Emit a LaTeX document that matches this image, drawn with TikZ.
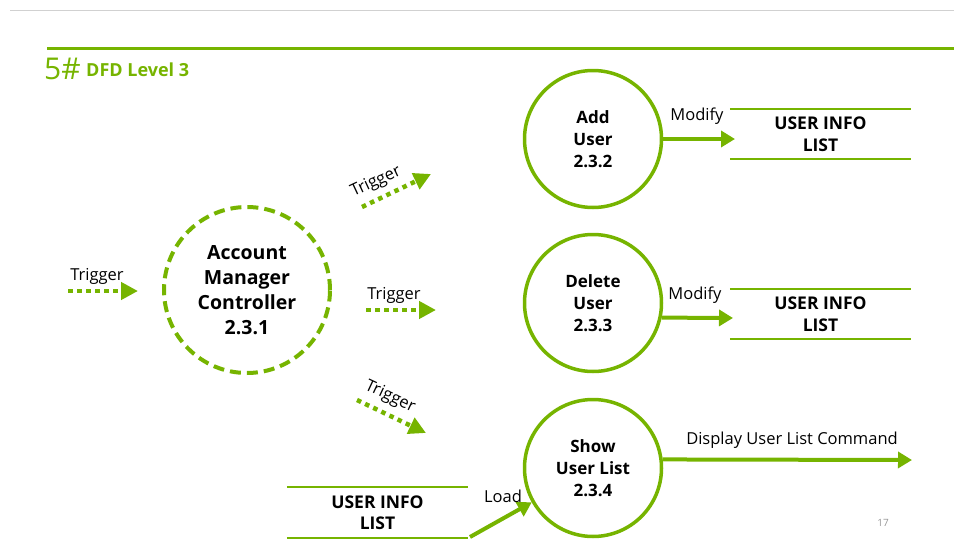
\documentclass[tikz,border=0pt]{standalone}
\usepackage{fontspec}
\setmainfont{Open Sans}
\usetikzlibrary{arrows.meta}
\definecolor{grn}{RGB}{118,180,0}
\definecolor{pgnum}{RGB}{150,150,150}
\tikzset{
  proc/.style={circle, draw=grn, line width=3.5pt, minimum size=137pt, inner sep=0pt, align=center, font=\fontsize{17}{22}\selectfont\bfseries},
  ctrl/.style={circle, draw=grn, line width=4pt, dash pattern=on 11pt off 6pt, minimum size=166pt, inner sep=0pt, align=center, font=\fontsize{19.5}{25}\selectfont\bfseries},
  store/.style={minimum width=181pt, minimum height=50pt, inner sep=0pt, align=center, font=\fontsize{17.5}{21.5}\selectfont\bfseries},
  storeline/.style={draw=grn, line width=2pt},
  flow/.style={draw=grn, line width=4pt, -{Triangle[length=14pt,width=16pt]}},
  trig/.style={draw=grn, line width=4.5pt, dash pattern=on 4.5pt off 4.5pt, -{Triangle[length=17pt,width=17pt]}},
  lbl/.style={font=\fontsize{16.5}{18}\selectfont, inner sep=0pt}
}
\begin{document}
\begin{tikzpicture}[x=1pt,y=-1pt]
\useasboundingbox (0,0) rectangle (954,541);
% header lines
\draw[draw=black!18, line width=1pt] (10,10.5) -- (954,10.5);
\draw[draw=grn, line width=3pt] (47,48.5) -- (954,48.5);
\node[anchor=base west, text=grn, inner sep=0pt, font=\fontsize{30}{30}\selectfont] (t5) at (44,79) {5\#};
\node[anchor=base west, text=grn, inner sep=0pt, font=\fontsize{18}{18}\selectfont\bfseries] (tt) at (86,76) {DFD Level 3};

% processes
\node[ctrl] (amc) at (247,290) {Account\\Manager\\Controller\\2.3.1};
\node[proc] (add) at (593,139) {Add\\User\\2.3.2};
\node[proc] (del) at (593,303) {Delete\\User\\2.3.3};
\node[proc] (show) at (593,468) {Show\\User List\\2.3.4};

% stores
\node[store] (s1) at (820.5,134) {USER INFO\\LIST};
\node[store] (s2) at (820.5,314) {USER INFO\\LIST};
\node[store] (s3) at (377.5,512.5) {USER INFO\\LIST};
\foreach \s in {s1,s2,s3}{
  \draw[storeline] (\s.north west) -- (\s.north east);
  \draw[storeline] (\s.south west) -- (\s.south east);
}

% trigger arrows
\coordinate (tin0) at (68,291);
\coordinate (tin1) at (138,291);
\draw[trig] (tin0) -- (tin1);
\node[lbl] (l0) at (97,276) {Trigger};

\coordinate (tu0) at (362,207);
\coordinate (tu1) at (431,174);
\draw[trig] (tu0) -- (tu1);
\node[lbl, rotate=25] (l1) at (376,182) {Trigger};

\coordinate (tm0) at (366,310);
\coordinate (tm1) at (436,310);
\draw[trig] (tm0) -- (tm1);
\node[lbl] (l2) at (394,295) {Trigger};

\coordinate (td0) at (357,400);
\coordinate (td1) at (426,433);
\draw[trig] (td0) -- (td1);
\node[lbl, rotate=-25] (l3) at (390,397) {Trigger};

% data flows
\coordinate (m1) at (735,139);
\draw[flow] (add.east) -- (m1);
\node[lbl] (lm1) at (697,116) {Modify};

\coordinate (m2) at (733,318);
\draw[flow] (del.-12) -- (m2);
\node[lbl] (lm2) at (695,295) {Modify};

\coordinate (d1) at (912,460);
\draw[flow] (show.7) -- (d1);
\node[lbl] (ld) at (792,440) {Display User List Command};

\coordinate (ld0) at (470,537);
\draw[flow] (ld0) -- (show);
\node[lbl] (ll) at (503,496) {Load};

\node[text=pgnum, font=\fontsize{10}{12}\selectfont, inner sep=0pt] (pg) at (883,523) {17};
\end{tikzpicture}
\end{document}
